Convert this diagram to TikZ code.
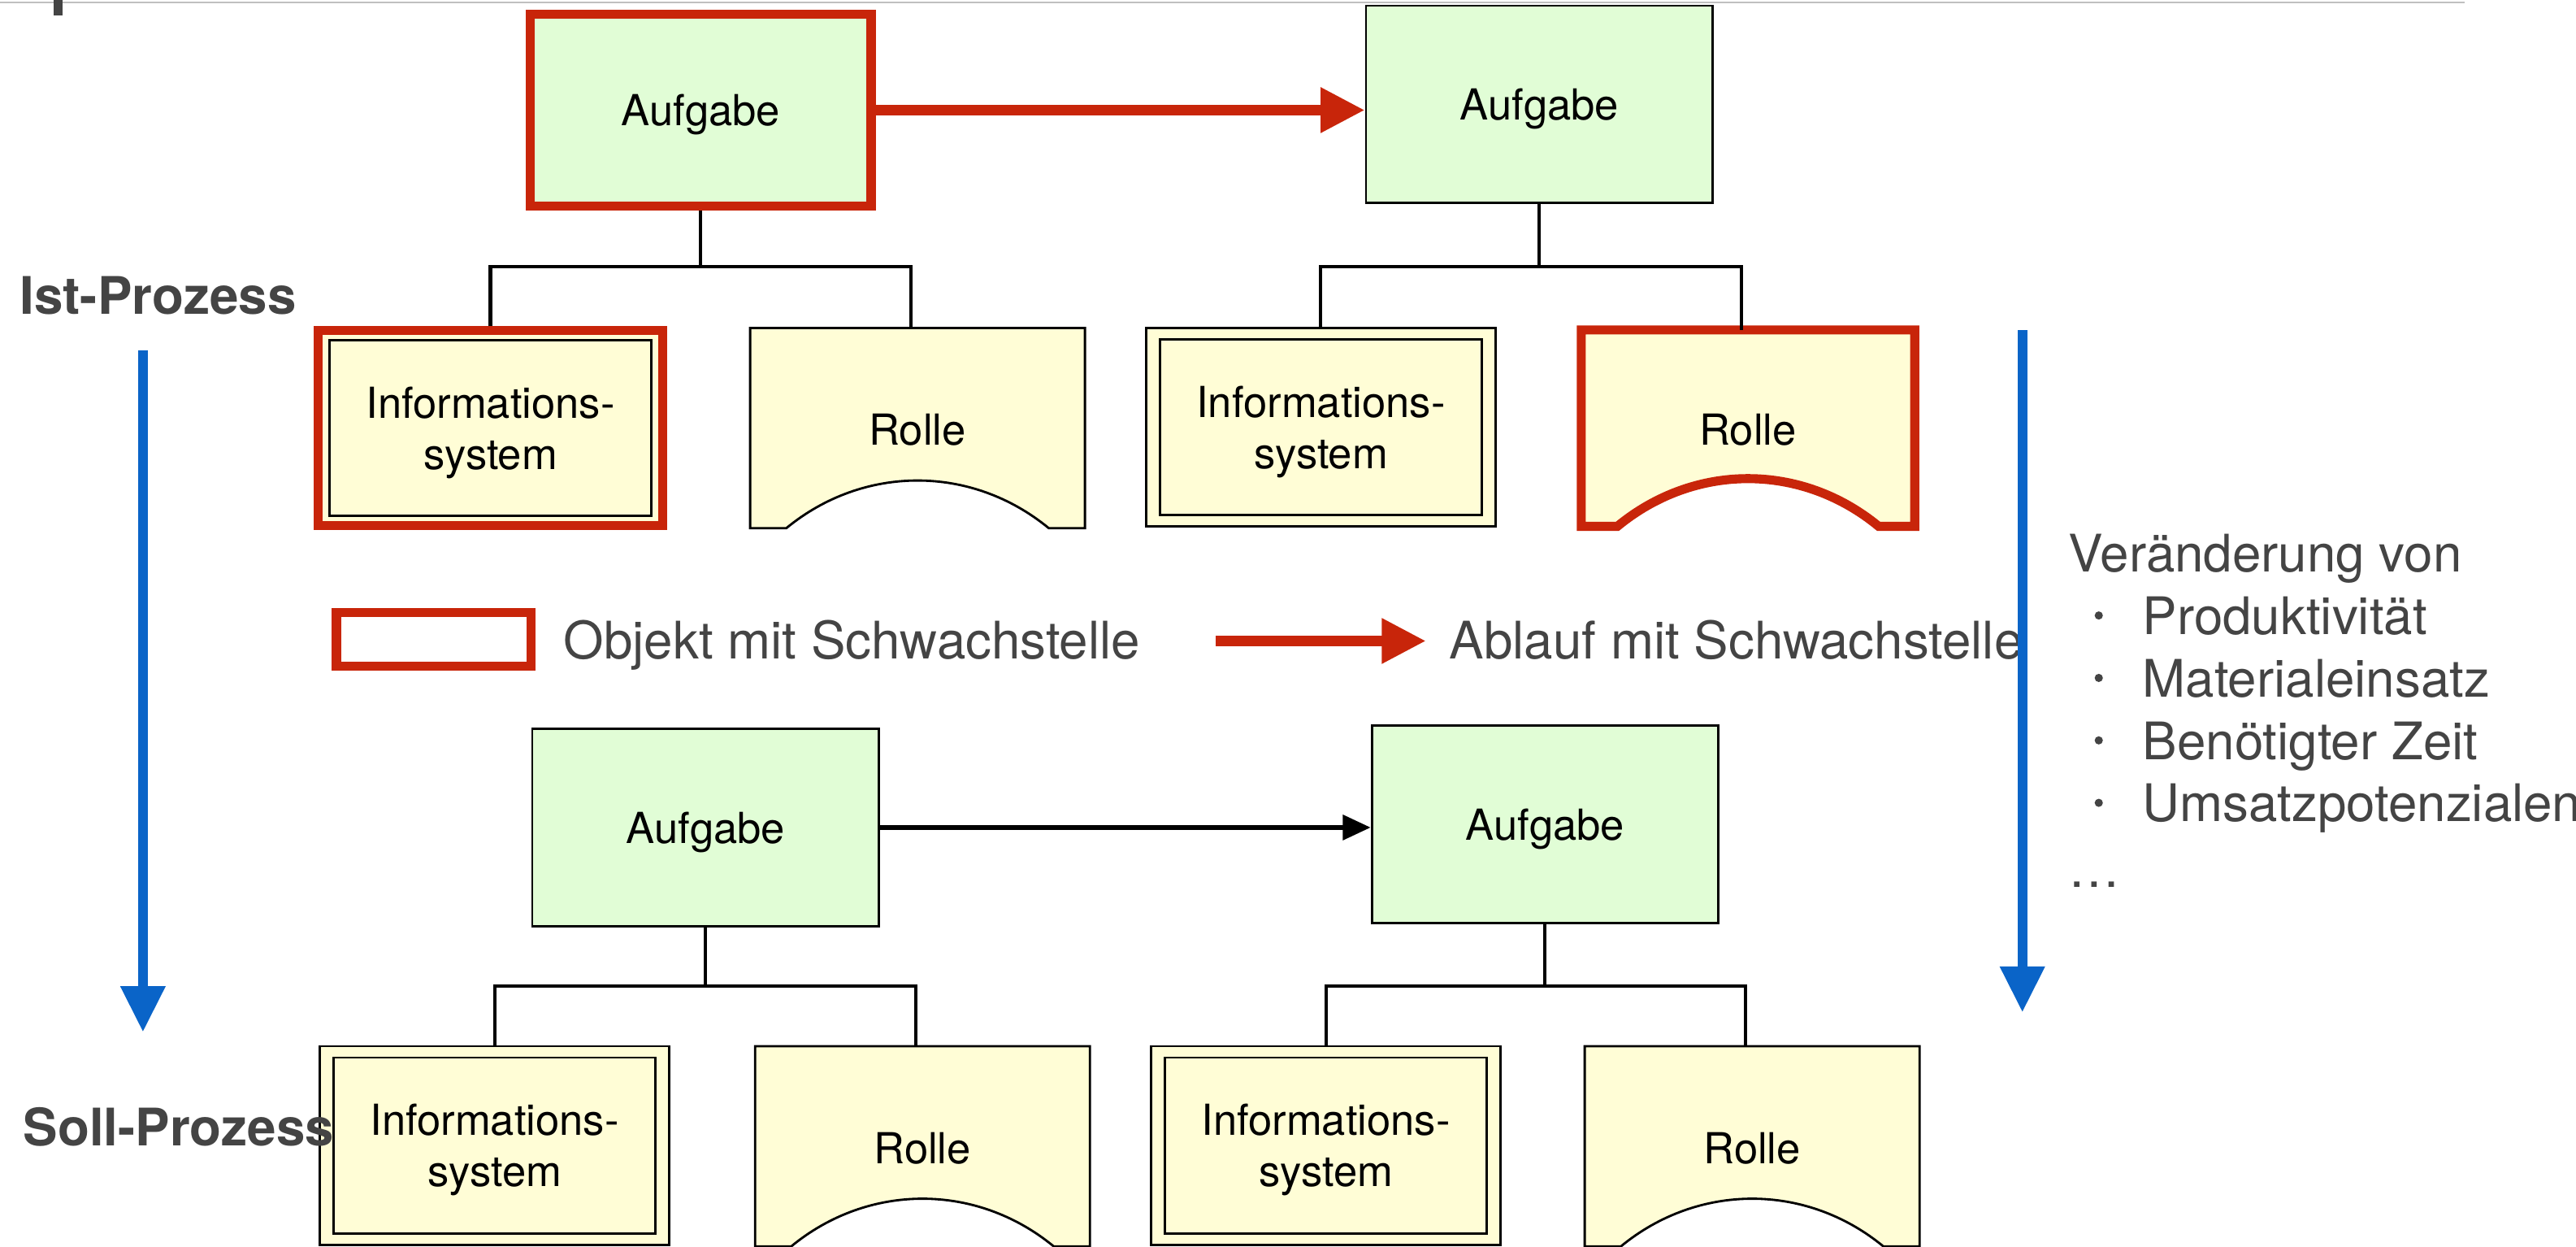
\documentclass[tikz,border=0pt]{standalone}
\usepackage{fontspec}
\setmainfont{TeX Gyre Heros}
\usetikzlibrary{arrows.meta,backgrounds}
\definecolor{boxgreen}{HTML}{E1FDD6}
\definecolor{boxyellow}{HTML}{FFFDD6}
\definecolor{weakred}{HTML}{C8250A}
\definecolor{flowblue}{HTML}{0A64C8}
\definecolor{darktext}{HTML}{444444}
\definecolor{rulegray}{HTML}{C0C0C0}
\newcommand\drawrolle[2]{%
  \begin{scope}[on background layer]
    \draw[#2] (#1.north west) -- (#1.north east) -- (#1.south east)
      -- ([xshift=-22pt]#1.south east)
      .. controls +(-47,-38.7) and +(47,-38.7) .. ([xshift=22pt]#1.south west)
      -- (#1.south west) -- cycle;
  \end{scope}}
\newcommand\isfirst{\rule{0pt}{24.5pt}}
\begin{document}
\begin{tikzpicture}[x=1pt,y=-1pt,
  boxtext/.style={font=\fontsize{26}{31.2}\selectfont, align=center, text=black, inner sep=0pt},
  aufgabe/.style={boxtext, text depth=0pt, draw=black, line width=1.4pt, fill=boxgreen,
    minimum width=211pt, minimum height=120pt},
  weak/.style={draw=weakred, line width=5.5pt},
  infosys/.style={boxtext, draw=black, line width=1.4pt, fill=boxyellow,
    minimum width=212.8pt, minimum height=120.8pt,
    path picture={\draw[black,line width=1.4pt]
      ([xshift=-98pt,yshift=53.5pt]path picture bounding box.center) rectangle
      ([xshift=98pt,yshift=-53.5pt]path picture bounding box.center);}},
  rolle/.style={boxtext, text depth=0pt, text height=21pt,
    minimum width=203.8pt, minimum height=121.8pt, outer sep=0pt},
  rolleline/.style={draw=black, line width=1.4pt, fill=boxyellow},
  rolleweak/.style={draw=weakred, line width=5.5pt, fill=boxyellow},
  conn/.style={draw=black, line width=2pt},
  redflow/.style={draw=weakred, line width=6.5pt, -{Triangle[length=27pt,width=26pt]}},
  blackflow/.style={draw=black, line width=2.8pt, -{Triangle[length=17pt,width=15pt]}},
  blueflow/.style={draw=flowblue, line width=6pt, -{Triangle[length=28pt,width=26pt]}},
  sidelabel/.style={font=\fontsize{31.5}{38}\selectfont\bfseries, text=darktext, inner sep=0pt},
  plaintext/.style={font=\fontsize{31.5}{38}\selectfont, text=darktext, inner sep=0pt},
  dot/.style={circle, fill=darktext, inner sep=0pt, minimum size=5pt},
]
\useasboundingbox (0,0) rectangle (1568,758.3);
% top rule and cut-off title fragment
\draw[rulegray, line width=1.3pt] (0,1.5) -- (1500,1.5);
\fill[darktext] (32.6,0) rectangle (38,9.5);

% ---------- Ist-Prozess ----------
\node[aufgabe, weak, minimum width=207.5pt, minimum height=116.5pt] (a1) at (426.5,67) {Aufgabe};
\node[aufgabe] (a2) at (937,63.5) {Aufgabe};
\draw[redflow] (a1.east) -- (a1.east -| a2.west);

\node[infosys, weak, minimum width=209.5pt, minimum height=118.5pt] (is1) at (298.5,260.5) {\isfirst Informations-\\system};
\node[rolle] (r1) at (558.5,260.5) {Rolle};
\drawrolle{r1}{rolleline}
\node[infosys] (is2) at (804,260) {\isfirst Informations-\\system};
\node[rolle, minimum width=203pt, minimum height=119.5pt] (r2) at (1064,260.5) {Rolle};
\drawrolle{r2}{rolleweak}

\coordinate (bartop) at (0,162);
\draw[conn] (a1.south) -- (a1.south |- bartop);
\draw[conn] (is1.north) |- (bartop -| a1.south) -| ([xshift=-4pt]r1.north);
\draw[conn] (a2.south) -- (a2.south |- bartop);
\draw[conn] (is2.north) |- (bartop -| a2.south) -| ([xshift=-4pt]r2.north);

% ---------- legend ----------
\node[weak, minimum width=118.5pt, minimum height=32.5pt, inner sep=0pt] (leg) at (264,389) {};
\node[plaintext, anchor=base west] (legt) at (343,401) {Objekt mit Schwachstelle};
\coordinate (la1) at (740,390);
\coordinate (la2) at (868,390);
\draw[redflow] (la1) -- (la2);
\node[plaintext, anchor=base west] (legf) at (882,401) {Ablauf mit Schwachstelle};

% ---------- Soll-Prozess ----------
\node[aufgabe] (a3) at (429.5,503.5) {Aufgabe};
\node[aufgabe] (a4) at (940.5,501.5) {Aufgabe};
\draw[blackflow] (a3.east) -- (a3.east -| a4.west);

\node[infosys] (is3) at (301,697) {\isfirst Informations-\\system};
\node[rolle] (r3) at (561.5,697.5) {Rolle};
\drawrolle{r3}{rolleline}
\node[infosys] (is4) at (807,697) {\isfirst Informations-\\system};
\node[rolle] (r4) at (1066.5,697.5) {Rolle};
\drawrolle{r4}{rolleline}

\coordinate (barbot) at (0,600);
\draw[conn] (a3.south) -- (a3.south |- barbot);
\draw[conn] (is3.north) |- (barbot -| a3.south) -| ([xshift=-4pt]r3.north);
\draw[conn] (a4.south) -- (a4.south |- barbot);
\draw[conn] (is4.north) |- (barbot -| a4.south) -| ([xshift=-4pt]r4.north);

% ---------- side labels and blue arrows ----------
\node[sidelabel, anchor=base west] (ist) at (12,191) {Ist-Prozess};
\node[sidelabel, anchor=base west] (soll) at (14,697) {Soll-Prozess};
\coordinate (bl1) at (87,213);
\coordinate (bl2) at (87,628);
\draw[blueflow] (bl1) -- (bl2);
\coordinate (br1) at (1231,201);
\coordinate (br2) at (1231,616);
\draw[blueflow] (br1) -- (br2);

% ---------- right text ----------
\node[plaintext, anchor=base west] (v0) at (1259,348) {Veränderung von};
\node[dot] (d1) at (1277.5,374.5) {};
\node[plaintext, anchor=base west] (v1) at (1304,386) {Produktivität};
\node[dot] (d2) at (1277.5,412.5) {};
\node[plaintext, anchor=base west] (v2) at (1304,424) {Materialeinsatz};
\node[dot] (d3) at (1277.5,450.5) {};
\node[plaintext, anchor=base west] (v3) at (1304,462) {Benötigter Zeit};
\node[dot] (d4) at (1277.5,488.5) {};
\node[plaintext, anchor=base west] (v4) at (1304,500) {Umsatzpotenzialen};
\node[plaintext, anchor=base west] (v5) at (1259,540) {…};
\end{tikzpicture}
\end{document}
